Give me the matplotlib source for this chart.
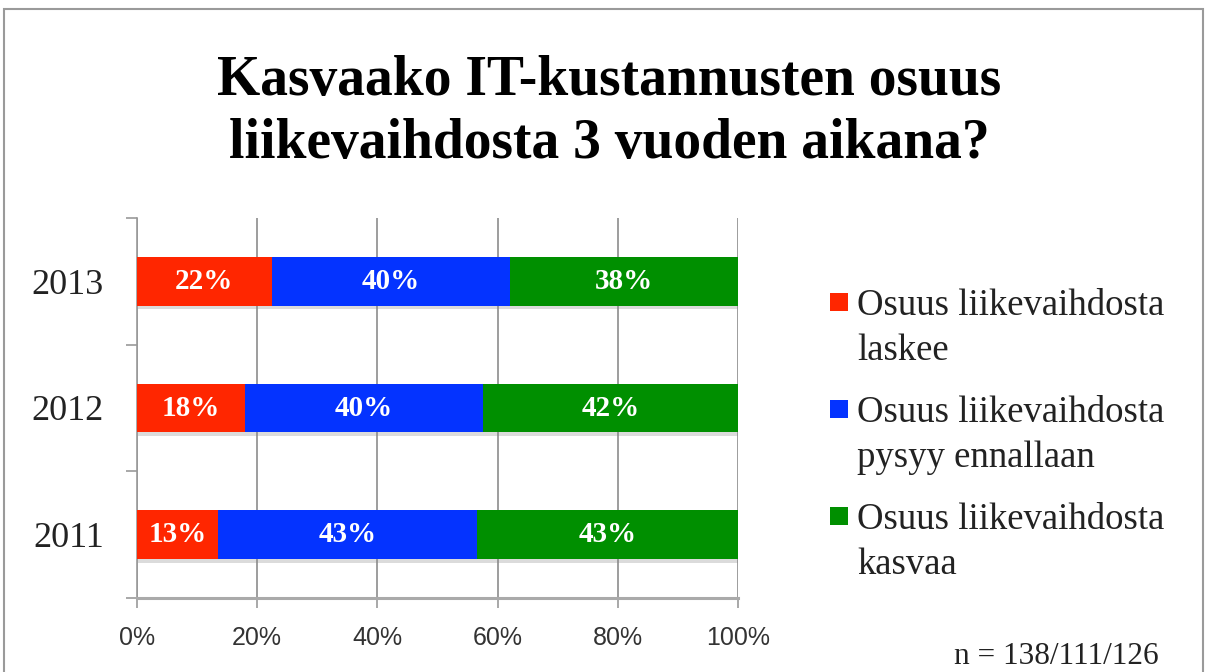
import matplotlib
matplotlib.use("Agg")
import matplotlib.pyplot as plt
from matplotlib.patches import Rectangle
import matplotlib.patheffects as pe

# ---- data ----
years = ["2011", "2012", "2013"]
series_names = ["Osuus liikevaihdosta\nlaskee",
                "Osuus liikevaihdosta\npysyy ennallaan",
                "Osuus liikevaihdosta\nkasvaa"]
laskee = [13.4, 18.0, 22.4]
pysyy = [43.2, 39.6, 39.7]
kasvaa = [43.4, 42.4, 37.9]
colors = ["#FF2600", "#0433FF", "#008F00"]
x_ticks = [0, 20, 40, 60, 80, 100]
x_tick_labels = ["0%", "20%", "40%", "60%", "80%", "100%"]
title = "Kasvaako IT-kustannusten osuus\nliikevaihdosta 3 vuoden aikana?"
note = "n = 138/111/126"

W, H = 1207, 672
fig = plt.figure(figsize=(W / 100, H / 100), dpi=100)
fig.patch.set_facecolor("white")

ax = fig.add_axes([137 / W, 1 - 598 / H, 601 / W, 380 / H])
ypos = list(range(len(years)))
serif = "Liberation Serif"
sans = "Liberation Sans"

shadow = [pe.SimplePatchShadow(offset=(1.0, -2.5), shadow_rgbFace="#888888", alpha=0.3), pe.Normal()]

left = [0.0] * len(years)
for vals, col in zip([laskee, pysyy, kasvaa], colors):
    bars = ax.barh(ypos, vals, left=left, height=0.386, color=col, zorder=3)
    for b in bars:
        b.set_path_effects(shadow)
    for y, v, l in zip(ypos, vals, left):
        ax.text(l + v / 2, y, f"{v:.0f}%", ha="center", va="center", color="white",
                fontsize=21, fontweight="bold", family=serif, zorder=4)
    left = [l + v for l, v in zip(left, vals)]

ax.set_xlim(0, 100)
ax.set_ylim(-0.5, len(years) - 0.5)

ax.set_xticks(x_ticks)
ax.set_xticklabels(x_tick_labels, family=sans, fontsize=18, color="#333333")
ax.tick_params(axis="x", direction="out", length=7, width=1.2, color="#999999", pad=13)

ax.set_yticks(ypos)
ax.set_yticklabels(years, family=serif, fontsize=26, color="#222222")
ax.tick_params(axis="y", which="major", length=0, pad=24)
ax.set_yticks([i - 0.5 for i in range(len(years) + 1)], minor=True)
ax.tick_params(axis="y", which="minor", direction="out", length=8, width=1.2, color="#999999")

ax.grid(axis="x", color="#8c8c8c", linewidth=1.2, zorder=0)
ax.set_axisbelow(True)
for s in ["top", "right"]:
    ax.spines[s].set_visible(False)
ax.spines["left"].set_color("#999999")
ax.spines["left"].set_linewidth(1.2)
ax.spines["bottom"].set_color("#aaaaaa")
ax.spines["bottom"].set_linewidth(2.2)

# title, one line per baseline
for line, base in zip(title.split("\n"), [95, 158]):
    fig.text(609 / W, 1 - base / H, line, ha="center", va="baseline", fontsize=40,
             fontweight="bold", family=serif, color="black")

# legend (manual)
for i, (name, col) in enumerate(zip(series_names, colors)):
    b1 = 315 + 107 * i
    fig.add_artist(Rectangle((830 / W, 1 - (b1 - 4) / H), 18 / W, 18 / H,
                             transform=fig.transFigure, facecolor=col, edgecolor="none"))
    for j, line in enumerate(name.split("\n")):
        fig.text(857 / W, 1 - (b1 + 45 * j) / H, line, ha="left", va="baseline",
                 fontsize=26.5, family=serif, color="#222222")

fig.text(1159 / W, 1 - 664 / H, note, ha="right", va="baseline", fontsize=22.5,
         family=serif, color="#222222")

# frame
fig.add_artist(Rectangle((4 / W, -0.05), 1199 / W, (H - 9) / H + 0.05,
                         transform=fig.transFigure, fill=False, edgecolor="#9a9a9a",
                         linewidth=1.5, clip_on=False))

fig.savefig("out.png", dpi=100, facecolor="white")
